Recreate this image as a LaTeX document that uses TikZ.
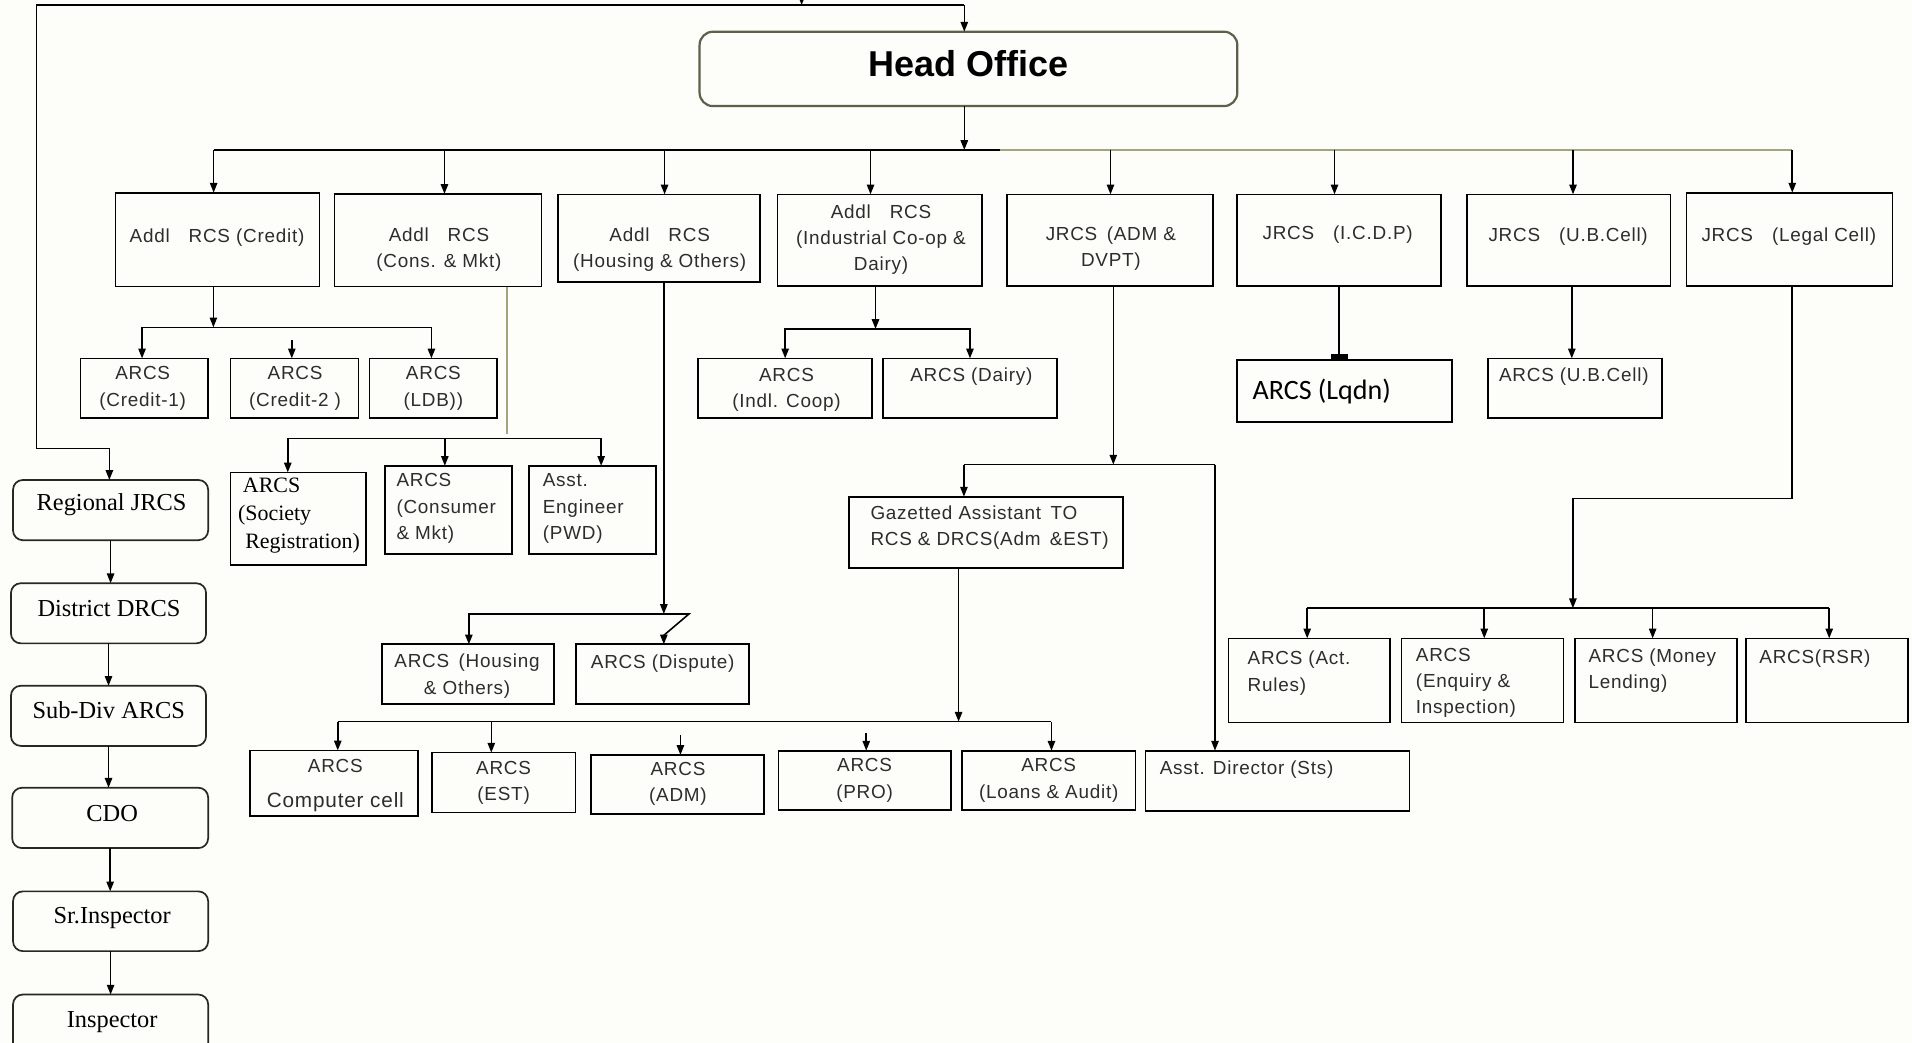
\documentclass[tikz,border=0pt]{standalone}
\usepackage{fontspec}
\setmainfont{Liberation Sans}
\newfontfamily\bxf{Liberation Sans}[LetterSpace=4.0]
\newfontfamily\serf{Liberation Serif}
\newfontfamily\calf{Carlito}
\usetikzlibrary{arrows.meta}
\definecolor{olivegray}{RGB}{165,165,125}
\definecolor{hoborder}{RGB}{95,95,75}
\definecolor{txtgray}{RGB}{45,45,45}
\definecolor{bgcol}{RGB}{253,253,250}
\newcommand\obox[6][bx]{\node[#1, minimum width={#5-#3}, minimum height={#6-#4}] (#2) at ({(#3+#5)/2},{(#4+#6)/2}) {};}
\begin{document}
\begin{tikzpicture}[x=1pt,y=-1pt,
  bx/.style={draw=black, line width=1.4pt, inner sep=0pt, outer sep=0pt},
  rbx/.style={bx, rounded corners=8pt, draw={rgb,255:red,40;green,40;blue,30}},
  hobox/.style={bx, rounded corners=11pt, draw=hoborder, line width=1.8pt},
  ln/.style={line width=1.3pt},
  arr/.style={line width=1.3pt, -{Triangle[length=8pt,width=6pt]}},
  sqarr/.style={line width=1.3pt, -{Rectangle[length=5pt,width=14pt]}},
  olv/.style={line width=1.7pt, draw=olivegray},
  txt/.style={font=\bxf\fontsize{15.5}{21.5}\selectfont, text=txtgray, inner sep=0pt, align=center},
  ltxt/.style={txt, align=left, anchor=west},
  stxt/.style={font=\serf\fontsize{20}{24}\selectfont, inner sep=0pt, align=center},
]
\useasboundingbox (0,0) rectangle (1568,855);
\fill[bgcol] (0,0) rectangle (1568,855);
\clip (0,0) rectangle (1568,855);

% ---------------- boxes ----------------
\obox[hobox]{ho}{573.7}{26}{1014.7}{87}

\obox{credit}{94.7}{158}{262}{235}
\obox{cons}{274.4}{159}{444}{235}
\obox{hous}{457.5}{159.4}{623.5}{231.5}
\obox{indus}{637.6}{159.4}{805.1}{234.5}
\obox{adm}{825.6}{159.4}{995}{234.5}
\obox{icdp}{1014.6}{159.4}{1182}{234.5}
\obox{ub}{1203}{159.4}{1370}{234.5}
\obox{legal}{1383}{158}{1552}{234.5}

\obox{c1}{65.9}{293.9}{170.7}{343}
\obox{c2}{189}{293.9}{293.9}{343}
\obox{ldb}{303}{293.9}{407.7}{343}
\obox{indl}{572.6}{293.9}{715.2}{343}
\obox{dairy}{724}{293.9}{866.9}{343}
\obox{lqdn}{1014.6}{295.2}{1190.9}{346.3}
\obox{ubarcs}{1220.5}{293.9}{1362.9}{343}

\obox{soc}{189}{387.4}{300}{463.4}
\obox{consu}{315.6}{382}{420}{454.6}
\obox{eng}{434}{382}{538}{454.6}
\obox{gaz}{696.2}{407.3}{921}{466}
\obox{harcs}{313}{528.4}{454.4}{577.6}
\obox{disp}{472.3}{528.4}{614.2}{577.6}
\obox{act}{1007.4}{523.5}{1140}{592.6}
\obox{enq}{1149.3}{523.5}{1282.2}{592.6}
\obox{money}{1291.5}{523.5}{1424.5}{592.6}
\obox{rsr}{1432}{523.5}{1564.6}{592.6}

\obox{comp}{204.8}{615.4}{343}{669.3}
\obox{est}{354}{617.2}{472}{666.2}
\obox{admb}{484.5}{619.1}{626.7}{667.8}
\obox{pro}{638.5}{615.6}{779.9}{664.3}
\obox{loans}{789}{615.6}{931.3}{664.3}
\obox{asstdir}{939.5}{615.6}{1156}{664.8}

\obox[rbx]{regional}{10.7}{393.6}{170.7}{443}
\obox[rbx]{district}{9}{478.3}{169}{527.6}
\obox[rbx]{subdiv}{9}{562.4}{169}{611.7}
\obox[rbx]{cdo}{10}{646}{170.7}{695.5}
\obox[rbx]{srinsp}{10.7}{731}{170.7}{780}
\obox[rbx]{insp}{10.7}{815.6}{170.7}{866}

% ---------------- texts ----------------
\node[font=\bfseries\fontsize{29.5}{32}\selectfont, inner sep=0pt] (t-ho) at (794,52) {Head Office};

\node[txt] (t-credit) at (178,195) {Addl\quad RCS (Credit)};
\node[txt] (t-cons) at (360,205) {Addl\quad RCS\\(Cons. \& Mkt)};
\node[txt] (t-hous) at (541,205) {Addl\quad RCS\\(Housing \& Others)};
\node[txt] (t-indus) at (722.5,196.5) {Addl\quad RCS\\(Industrial Co-op \&\\Dairy)};
\node[txt] (t-adm) at (911,204) {JRCS\enspace(ADM \&\\DVPT)};
\node[txt] (t-icdp) at (1097,192.7) {JRCS\quad(I.C.D.P)};
\node[txt] (t-ub) at (1286,194) {JRCS\quad(U.B.Cell)};
\node[txt] (t-legal) at (1467,194) {JRCS\quad(Legal Cell)};

\node[txt] (t-c1) at (117,318.5) {ARCS\\(Credit-1)};
\node[txt] (t-c2) at (242,318.5) {ARCS\\(Credit-2 )};
\node[txt] (t-ldb) at (355.4,318.5) {ARCS\\(LDB))};
\node[txt] (t-indl) at (645,320) {ARCS\\(Indl. Coop)};
\node[txt] (t-dairy) at (796.6,309) {ARCS (Dairy)};
\node[font=\calf\fontsize{23}{26}\selectfont, inner sep=0pt, anchor=west] (t-lqdn) at (1027,321) {ARCS (Lqdn)};
\node[txt] (t-ubarcs) at (1290.7,309) {ARCS (U.B.Cell)};

\node[font=\serf\fontsize{18}{23}\selectfont, inner sep=0pt, align=left, anchor=west] (t-soc) at (195,423) {\hspace*{4pt}ARCS\\(Society\\\hspace*{6pt}Registration)};
\node[ltxt] (t-consu) at (325,417) {ARCS\\(Consumer\\\& Mkt)};
\node[ltxt] (t-eng) at (445,417) {Asst.\\Engineer\\(PWD)};
\node[ltxt] (t-gaz) at (713.7,432.7) {Gazetted Assistant\enspace TO\\RCS \& DRCS(Adm\enspace\&EST)};
\node[txt] (t-harcs) at (383,554.5) {ARCS\enspace(Housing\\\& Others)};
\node[txt] (t-disp) at (543.5,544.5) {ARCS (Dispute)};
\node[ltxt] (t-act) at (1023,552) {ARCS (Act.\\Rules)};
\node[ltxt] (t-enq) at (1161,560) {ARCS\\(Enquiry \&\\Inspection)};
\node[ltxt] (t-money) at (1302.6,550) {ARCS (Money\\Lending)};
\node[ltxt] (t-rsr) at (1442.7,540) {ARCS(RSR)};

\node[txt, font=\bxf\fontsize{15.5}{28.5}\selectfont] (t-comp) at (275,644) {ARCS\\{\fontsize{17}{28.5}\selectfont Computer cell}};
\node[txt] (t-est) at (413,642) {ARCS\\(EST)};
\node[txt] (t-admb) at (556,643) {ARCS\\(ADM)};
\node[txt] (t-pro) at (709,640) {ARCS\\(PRO)};
\node[txt] (t-loans) at (860,640) {ARCS\\(Loans \& Audit)};
\node[ltxt] (t-asstdir) at (951,631.4) {Asst. Director (Sts)};

\node[stxt] (t-regional) at (91.5,414) {Regional JRCS};
\node[stxt] (t-district) at (89.4,499) {District DRCS};
\node[stxt] (t-subdiv) at (89.2,582) {Sub-Div ARCS};
\node[stxt] (t-cdo) at (92,667) {CDO};
\node[stxt] (t-srinsp) at (92,753) {Sr.Inspector};
\node[stxt] (t-insp) at (92,838) {Inspector};

% ---------------- connectors ----------------
% outer frame to Head Office and Regional JRCS
\coordinate (tl) at (29.8,4.1);
\coordinate (tr) at (790.8,4.1);
\coordinate (tin) at (657.4,-8);
\coordinate (rj) at (89.7,367.7);
\draw[ln] (tr) -- (tl) -- (tl |- rj) -- (rj);
\draw[arr] (rj) -- (rj |- regional.north);
\draw[arr] (tr) -- (tr |- ho.north);
\draw[arr] (tin) -- (tin |- tl);

% left column chain
\draw[arr] (regional.south) -- (regional.south |- district.north);
\draw[arr] (district.south) -- (district.south |- subdiv.north);
\draw[arr] (subdiv.south) -- (subdiv.south |- cdo.north);
\draw[arr] (cdo.south) -- (cdo.south |- srinsp.north);
\draw[arr] (srinsp.south) -- (srinsp.south |- insp.north);

% head office bus
\coordinate (hb) at (790.8,123);
\coordinate (bl) at (175.2,123);
\coordinate (bm) at (820,123);
\coordinate (br) at (1469.8,123);
\draw[ln] (bl) -- (bm);
\draw[olv] (bm) -- (br);
\draw[arr] (hb |- ho.south) -- (hb);
\foreach \n/\x in {credit/175.2, cons/364.5, hous/545, indus/713.9, adm/910.7, icdp/1094.4, ub/1290, legal/1469.8}{
  \coordinate (d-\n) at (\x,123);
  \draw[arr] (d-\n) -- (d-\n |- \n.north);
}

% credit
\coordinate (cb) at (175,268.4);
\coordinate (cbl) at (116.5,268.4);
\coordinate (cbr) at (353.8,268.4);
\coordinate (c2s) at (239.3,279);
\draw[arr] (cb |- credit.south) -- (cb);
\draw[ln] (cbl) -- (cbr);
\draw[arr] (cbl) -- (cbl |- c1.north);
\draw[arr] (cbr) -- (cbr |- ldb.north);
\draw[arr] (c2s) -- (c2s |- c2.north);

% cons & mkt
\coordinate (mb) at (416,356);
\coordinate (mbl) at (236,359.5);
\coordinate (mbm) at (364.8,359.5);
\coordinate (mbr) at (493,359.5);
\draw[olv, line width=1.4pt] (mb |- cons.south) -- (mb);
\draw[ln] (mbl) -- (mbr);
\draw[arr] (mbl) -- (mbl |- soc.north);
\draw[arr] (mbm) -- (mbm |- consu.north);
\draw[arr] (mbr) -- (mbr |- eng.north);

% housing
\coordinate (hb2) at (544.4,503.5);
\coordinate (hbl) at (384.5,503.5);
\coordinate (zz1) at (565,503.5);
\coordinate (zz2) at (544.4,521);
\draw[arr] (hb2 |- hous.south) -- (hb2);
\draw[arr] (hb2) -- (hbl) -- (hbl |- harcs.north);
\draw[arr] (hb2) -- (zz1) -- (zz2) -- (zz2 |- disp.north);

% industrial
\coordinate (ib) at (718,269.8);
\draw[arr] (ib |- indus.south) -- (ib);
\draw[arr] (ib) -| (indl.north);
\draw[arr] (ib) -| (dairy.north);

% adm & dvpt
\coordinate (ab) at (913,381);
\coordinate (abl) at (790.5,381);
\coordinate (abr) at (996.4,381);
\draw[arr] (ab |- adm.south) -- (ab);
\draw[ln] (abl) -- (abr);
\draw[arr] (abl) -- (abl |- gaz.north);
\draw[arr] (abr) -- (abr |- asstdir.north);

% gazetted
\coordinate (gb) at (786.1,591.8);
\coordinate (gbl) at (277,591.8);
\coordinate (gbe) at (402.9,591.8);
\coordinate (gbr) at (862.3,591.8);
\coordinate (ads) at (558,603);
\coordinate (prs) at (710.4,601);
\draw[arr] (gb |- gaz.south) -- (gb);
\draw[ln] (gbl) -- (gbr);
\draw[arr] (gbl) -- (gbl |- comp.north);
\draw[arr] (gbe) -- (gbe |- est.north);
\draw[arr] (gbr) -- (gbr |- loans.north);
\draw[arr] (ads) -- (ads |- admb.north);
\draw[arr] (prs) -- (prs |- pro.north);

% icdp, ub
\draw[sqarr] (icdp.south) -- (icdp.south |- lqdn.north);
\coordinate (ubx) at (1289,0);
\draw[arr] (ubx |- ub.south) -- (ubx |- ubarcs.north);

% legal
\coordinate (lg1) at (1469.8,408.7);
\coordinate (lg2) at (1289.9,408.7);
\coordinate (lb) at (1289.9,498.8);
\coordinate (lbl) at (1072,498.8);
\coordinate (lbe) at (1217.2,498.8);
\coordinate (lbm) at (1355.3,498.8);
\coordinate (lbr) at (1500.1,498.8);
\draw[arr] (lg1 |- legal.south) -- (lg1) -- (lg2) -- (lb);
\draw[ln] (lbl) -- (lbr);
\draw[arr] (lbl) -- (lbl |- act.north);
\draw[arr] (lbe) -- (lbe |- enq.north);
\draw[arr] (lbm) -- (lbm |- money.north);
\draw[arr] (lbr) -- (lbr |- rsr.north);
\end{tikzpicture}
\end{document}
